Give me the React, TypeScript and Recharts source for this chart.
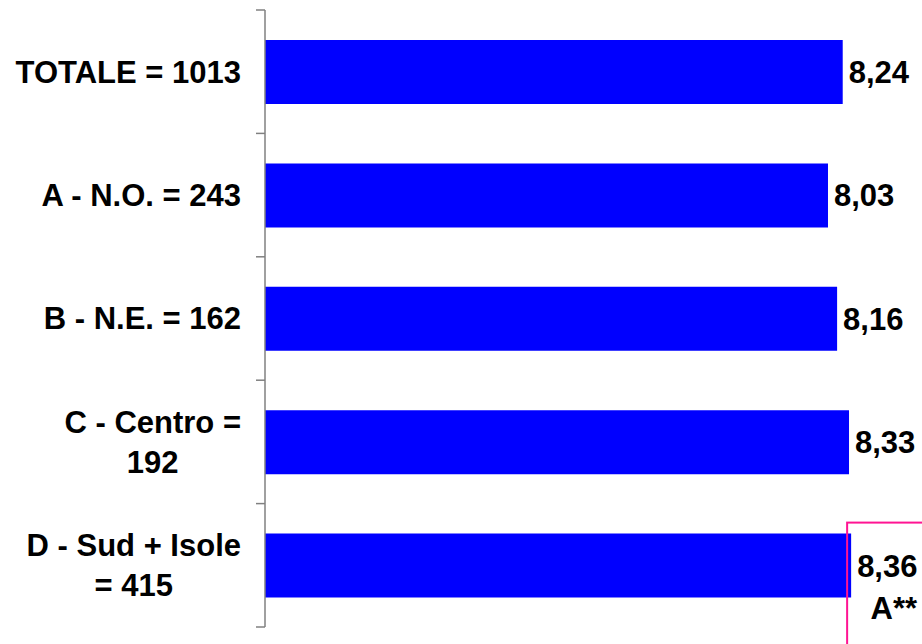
import { BarChart, Bar, XAxis, YAxis, LabelList } from 'recharts';

const categories = [
  'TOTALE = 1013',
  'A - N.O. = 243',
  'B - N.E. = 162',
  'C - Centro =\n192',
  'D - Sud + Isole\n= 415',
];
const scores = [8.24, 8.03, 8.16, 8.33, 8.36];
const notes = ['', '', '', '', 'A**'];
const xDomain = [0, 9];

const rows = categories.map((name, i) => ({ name, score: scores[i], note: notes[i] }));

const WIDTH = 922;
const HEIGHT = 644;
const MARGIN = { top: 10, right: 26, bottom: 17, left: 0 };
const AXIS_W = 265;
const FONT = '"Liberation Sans", Arial, Helvetica, sans-serif';
const FONT_SIZE = 31;
const BAND = (HEIGHT - MARGIN.top - MARGIN.bottom) / categories.length;

let ctx: CanvasRenderingContext2D | null = null;
function measure(text: string) {
  if (!ctx) ctx = document.createElement('canvas').getContext('2d');
  if (!ctx) return text.length * FONT_SIZE * 0.6;
  ctx.font = `bold ${FONT_SIZE}px ${FONT}`;
  return ctx.measureText(text).width;
}

const fmt = (v: number) => v.toFixed(2).replace('.', ',');

function CategoryTick(props: any) {
  const { y, payload, index } = props;
  const lines = String(payload.value).split('\n');
  const half = payload.offset || BAND / 2;
  const axisX = MARGIN.left + AXIS_W;
  const right = axisX - 24;
  const maxW = Math.max(...lines.map(measure));
  const multi = lines.length > 1;
  return (
    <g>
      <line x1={axisX - 9} x2={axisX} y1={y - half} y2={y - half} stroke="#808080" strokeWidth={1.5} />
      {index === categories.length - 1 && (
        <line x1={axisX - 9} x2={axisX} y1={y + half} y2={y + half} stroke="#808080" strokeWidth={1.5} />
      )}
      {lines.map((line, i) => (
        <text
          key={i}
          x={multi ? right - maxW / 2 : right}
          y={y + (i - (lines.length - 1) / 2) * 40}
          dy="0.35em"
          textAnchor={multi ? 'middle' : 'end'}
          fontFamily={FONT}
          fontSize={FONT_SIZE}
          fontWeight="bold"
          fill="#000"
        >
          {line}
        </text>
      ))}
    </g>
  );
}

function ValueLabel(props: any) {
  const { x, y, width, height, index } = props;
  const endX = Number(x) + Number(width);
  const cy = Number(y) + Number(height) / 2;
  const note = notes[index];
  return (
    <g>
      {note && (
        <rect
          x={endX - 4}
          y={Number(y) - 11}
          width={300}
          height={300}
          fill="none"
          stroke="#ff1493"
          strokeWidth={2}
        />
      )}
      <text
        x={endX + 6}
        y={cy + (note ? 1 : 0)}
        dy="0.35em"
        textAnchor="start"
        fontFamily={FONT}
        fontSize={FONT_SIZE}
        fontWeight="bold"
        fill="#000"
      >
        {fmt(scores[index])}
      </text>
      {note && (
        <text
          x={endX + 66}
          y={cy + 43}
          dy="0.35em"
          textAnchor="end"
          fontFamily={FONT}
          fontSize={FONT_SIZE}
          fontWeight="bold"
          fill="#000"
        >
          {note}
        </text>
      )}
    </g>
  );
}

export default function App() {
  return (
    <div style={{ width: WIDTH, height: HEIGHT, overflow: 'hidden', background: '#fff' }}>
      <style>{'body{margin:0;overflow:hidden;background:#fff}'}</style>
      <BarChart width={WIDTH} height={HEIGHT} data={rows} layout="vertical" margin={MARGIN}>
        <XAxis type="number" domain={xDomain} hide />
        <YAxis
          type="category"
          dataKey="name"
          width={AXIS_W}
          interval={0}
          tickLine={false}
          axisLine={{ stroke: '#808080', strokeWidth: 1.5 }}
          tick={<CategoryTick />}
        />
        <Bar dataKey="score" fill="#0000ff" barSize={64} isAnimationActive={false}>
          <LabelList dataKey="score" content={<ValueLabel />} />
        </Bar>
      </BarChart>
    </div>
  );
}
